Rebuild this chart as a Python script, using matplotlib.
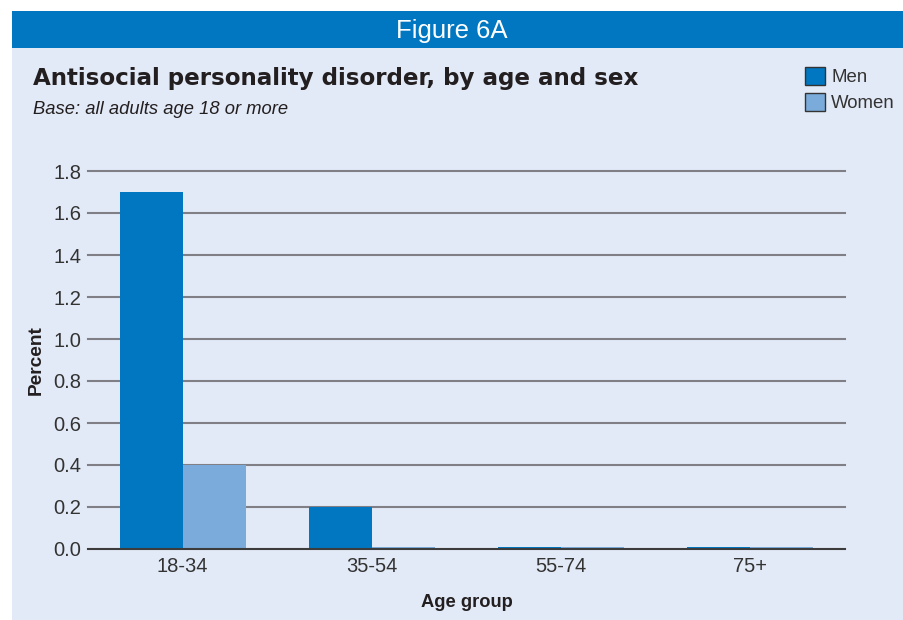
import matplotlib
matplotlib.use("Agg")
import matplotlib.pyplot as plt
from matplotlib.patches import Rectangle, Patch
import numpy as np

categories = ["18-34", "35-54", "55-74", "75+"]
men = [1.7, 0.2, 0.01, 0.01]
women = [0.4, 0.01, 0.01, 0.01]
yticks = [0.0, 0.2, 0.4, 0.6, 0.8, 1.0, 1.2, 1.4, 1.6, 1.8]

MEN_C = "#0077C0"
WOMEN_C = "#7BABDA"
BG = "#E3EAF7"
HEAD = "#0077C0"
TXT = "#231F20"

plt.rcParams["font.family"] = ["Liberation Sans", "DejaVu Sans"]

W, H = 904, 620
fig = plt.figure(figsize=(W / 100, H / 100), dpi=100)
fig.patch.set_facecolor("white")

def fx(px):
    return px / W

def fy(py):
    return 1 - py / H

# panel background
fig.patches.append(Rectangle((fx(12), 0), 1 - fx(12), fy(48), transform=fig.transFigure,
                             facecolor=BG, edgecolor="none", zorder=-10))
fig.patches.append(Rectangle((fx(12), fy(48)), 1 - fx(12), fy(11) - fy(48), transform=fig.transFigure,
                             facecolor=HEAD, edgecolor="none", zorder=-10))

fig.text(0.5, fy(31), "Figure 6A", color="white", fontsize=18.5, ha="center", va="center")
fig.text(fx(33), fy(78), "Antisocial personality disorder, by age and sex", color=TXT,
         fontsize=16.6, fontweight="bold", family=["DejaVu Sans"], ha="left", va="center")
fig.text(fx(33), fy(109), "Base: all adults age 18 or more", color=TXT,
         fontsize=13.2, style="italic", ha="left", va="center")

ax = fig.add_axes([fx(88), fy(549), fx(845) - fx(88), fy(171) - fy(549)])
ax.set_facecolor("none")
x = np.arange(len(categories))
bw = 1 / 3
ax.bar(x - bw / 2, men, width=bw, color=MEN_C, edgecolor="none", zorder=3)
ax.bar(x + bw / 2, women, width=bw, color=WOMEN_C, edgecolor="none", zorder=3)
ax.set_xlim(-0.5, len(categories) - 0.5)
ax.set_ylim(0, 1.8)
for t in yticks:
    ax.axhline(t, color="#3C3C3C" if t == 0 else "#7F7F85", lw=1.5, zorder=2 if t else 4, clip_on=False)
for s in ax.spines.values():
    s.set_visible(False)
ax.set_yticks(yticks)
ax.set_yticklabels([f"{t:.1f}" for t in yticks])
ax.set_xticks(x)
ax.set_xticklabels(categories)
ax.tick_params(axis="both", length=0, labelsize=14.5, labelcolor="#333333")
ax.tick_params(axis="y", pad=5)
ax.tick_params(axis="x", pad=6)
ax.set_ylabel("Percent", fontsize=13.8, fontweight="bold", color=TXT)
ax.yaxis.set_label_coords((45 - 88) / 757, 0.5)
ax.set_xlabel("Age group", fontsize=13.2, fontweight="bold", color=TXT, labelpad=13)

handles = [Patch(facecolor=MEN_C, edgecolor="#333333", lw=1),
           Patch(facecolor=WOMEN_C, edgecolor="#333333", lw=1)]
fig.legend(handles, ["Men", "Women"], loc="upper left", bbox_to_anchor=(fx(805), fy(67)),
           frameon=False, fontsize=13.4, handlelength=1.1, handleheight=1.1,
           handletextpad=0.3, labelspacing=0.35, borderaxespad=0, borderpad=0,
           labelcolor="#333333")

fig.savefig("out.png", dpi=100, facecolor=fig.get_facecolor())
